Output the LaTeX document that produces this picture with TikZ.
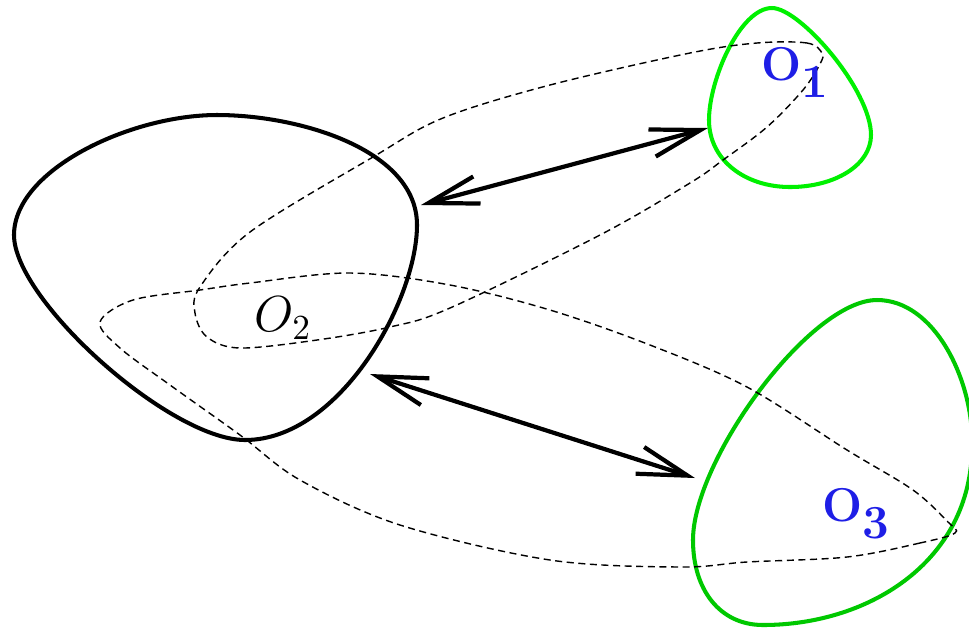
\documentclass[tikz,border=0pt]{standalone}
\usepackage{amsmath}
\usepackage{tikz}
\usetikzlibrary{arrows.meta}

\definecolor{labelblue}{RGB}{30,30,230}
\definecolor{brightgreen}{RGB}{0,240,0}
\definecolor{darkgreen}{RGB}{0,200,0}

\begin{document}
\begin{tikzpicture}[
    x=0.01cm, y=-0.01cm,
    blob/.style={line width=1.15pt},
    loop/.style={line width=0.4pt, dash pattern=on 2pt off 1.3pt, smooth cycle, tension=0.55},
    arr/.style={{Straight Barb[length=5mm,width=2.8mm]}-{Straight Barb[length=5mm,width=2.8mm]}, line width=1.2pt},
    lab/.style={font=\fontsize{13.5}{16}\selectfont\bfseries, text=labelblue, inner sep=0pt}
]
\useasboundingbox (0,0) rectangle (969,629);

% the three regions
\draw[blob] (14,235) .. controls (14,170) and (130,115) .. (217,115)
    .. controls (300,115) and (417,150) .. (417,225)
    .. controls (417,300) and (340,440) .. (245,440)
    .. controls (170,440) and (14,300) .. cycle;
\draw[blob, brightgreen] (772,8) .. controls (800,8) and (871,90) .. (871,135)
    .. controls (871,165) and (835,187) .. (790,187)
    .. controls (745,187) and (709,160) .. (709,120)
    .. controls (709,80) and (740,8) .. cycle;
\draw[blob, darkgreen] (877,300) .. controls (935,300) and (972,380) .. (972,440)
    .. controls (975,560) and (870,625) .. (763,625)
    .. controls (720,625) and (693,590) .. (693,540)
    .. controls (693,460) and (810,300) .. cycle;

% dashed loops
\draw[loop] plot coordinates {(822,53) (807,43) (757,43) (690,53) (550,85) (443,118) (373,157) (250,232) (200,287) (195,313) (207,337) (240,348) (317,340) (390,327) (450,308) (600,235) (690,183) (723,160) (767,127) (803,90) (820,64)};
\draw[loop] plot coordinates {(955,533) (920,543) (847,557) (747,562) (680,567) (550,560) (400,525) (300,480) (240,435) (170,385) (120,348) (100,322) (133,300) (200,290) (250,283) (350,273) (450,285) (550,310) (650,345) (747,387) (847,450) (913,490) (948,522)};

% labels
\node[lab] (o1) at (795,72) {O\raisebox{-0.8ex}{1}};
\node[font=\Large, inner sep=0pt] (o2) at (283,318) {$O_2$};
\node[lab] (o3) at (856,514) {O\raisebox{-0.8ex}{3}};

% arrows
\coordinate (p1) at (421,205);
\coordinate (q1) at (708,128);
\coordinate (p2) at (370,374);
\coordinate (q2) at (695,478);
\draw[arr] (p1) -- (q1);
\draw[arr] (p2) -- (q2);

\end{tikzpicture}
\end{document}
